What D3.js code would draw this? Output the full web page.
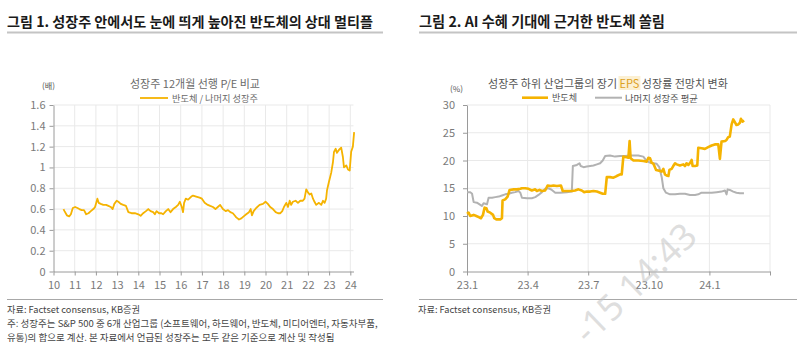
<!DOCTYPE html>
<html><head><meta charset="utf-8">
<script src="https://cdn.jsdelivr.net/npm/d3@7"></script>
<style>body{margin:0;background:#fff}svg{display:block}</style>
</head><body>
<svg id="c" width="800" height="353"></svg>
<script>
// ---------- data ----------
const peYears = [2010.47,2010.52,2010.63,2010.74,2010.82,2010.91,2011.02,2011.13,2011.22,2011.33,2011.44,2011.54,2011.65,2011.76,2011.88,2011.96,
2012.07,2012.13,2012.23,2012.35,2012.48,2012.59,2012.70,2012.79,2012.87,2012.98,2013.06,2013.17,2013.29,2013.42,2013.53,2013.68,2013.84,
2014.00,2014.11,2014.23,2014.36,2014.47,2014.58,2014.70,2014.78,2014.86,2014.98,2015.09,2015.17,2015.30,2015.41,2015.52,2015.64,2015.77,
2015.88,2015.96,2016.05,2016.11,2016.16,2016.24,2016.35,2016.50,2016.58,2016.73,2016.89,2017.00,2017.13,2017.28,2017.39,2017.52,2017.64,
2017.75,2017.86,2017.99,2018.12,2018.23,2018.34,2018.46,2018.54,2018.62,2018.75,2018.86,2018.97,2019.09,2019.22,2019.30,2019.36,2019.44,
2019.56,2019.72,2019.88,2020.00,2020.11,2020.22,2020.35,2020.48,2020.59,2020.70,2020.79,2020.87,2020.98,2021.06,2021.14,2021.21,2021.29,
2021.42,2021.53,2021.64,2021.76,2021.84,2021.92,2022.00,2022.08,2022.16,2022.24,2022.31,2022.39,2022.52,2022.63,2022.71,2022.79,2022.86,
2022.90,2022.99,2023.10,2023.18,2023.23,2023.31,2023.37,2023.47,2023.57,2023.65,2023.70,2023.81,2023.89,2023.97,2024.04,2024.12,2024.18];
const peRatio = [0.60,0.58,0.54,0.53,0.55,0.61,0.62,0.61,0.60,0.59,0.59,0.55,0.56,0.58,0.60,0.62,
0.70,0.66,0.65,0.64,0.64,0.63,0.62,0.60,0.65,0.68,0.67,0.65,0.64,0.63,0.57,0.56,0.56,
0.55,0.535,0.56,0.58,0.60,0.58,0.57,0.55,0.58,0.56,0.56,0.55,0.58,0.60,0.57,0.60,0.62,
0.64,0.67,0.62,0.57,0.66,0.70,0.69,0.72,0.73,0.72,0.71,0.70,0.66,0.64,0.63,0.62,0.60,
0.62,0.64,0.60,0.58,0.59,0.57,0.56,0.54,0.52,0.50,0.51,0.53,0.55,0.57,0.60,0.54,0.58,
0.61,0.64,0.65,0.67,0.65,0.62,0.60,0.57,0.56,0.56,0.58,0.62,0.66,0.62,0.68,0.64,0.67,
0.68,0.66,0.68,0.68,0.70,0.79,0.76,0.74,0.75,0.70,0.67,0.64,0.66,0.64,0.68,0.66,0.70,
0.78,0.86,0.95,1.05,1.15,1.18,1.14,1.17,1.19,1.10,1.00,1.02,0.98,0.97,1.15,1.20,1.34];

// months since 2023-01
const semiMonths = [0.00,0.08,0.16,0.33,0.46,0.58,0.69,0.79,0.87,0.96,1.02,1.15,1.29,1.35,1.45,1.65,1.73,1.76,1.89,2.01,2.11,2.31,2.47,2.64,2.72,2.88,
3.05,3.21,3.38,3.46,3.59,3.71,3.87,3.99,4.15,4.28,4.45,4.65,4.74,4.94,5.19,5.35,5.52,5.68,5.80,5.93,6.10,6.26,6.43,6.59,6.72,6.84,6.92,
7.08,7.25,7.41,7.58,7.66,7.74,7.91,7.99,8.05,8.10,8.24,8.48,8.73,8.90,8.98,9.06,9.14,9.23,9.36,9.47,9.56,9.64,9.72,9.80,9.88,9.97,10.02,
10.13,10.21,10.30,10.38,10.54,10.71,10.79,10.87,10.96,11.07,11.12,11.17,11.29,11.40,11.45,11.61,11.78,11.94,12.11,12.27,12.44,12.52,12.60,
12.77,12.85,12.93,13.01,13.10,13.18,13.26,13.34,13.43,13.51,13.56,13.64,13.72];
const semiEps = [10.4,10.6,10.0,10.2,10.0,9.8,9.6,10.2,11.5,11.4,10.8,10.6,10.2,9.6,9.4,9.4,9.6,12.8,13.0,13.5,14.7,14.8,14.8,14.9,15.0,15.0,
14.9,14.6,14.8,14.5,14.7,14.5,14.6,15.5,15.4,15.5,15.4,15.5,14.5,14.5,14.5,14.6,14.8,14.6,14.3,14.4,14.4,14.5,14.4,14.2,14.0,14.0,17.0,
17.0,16.9,17.2,17.5,17.5,20.7,20.6,20.5,23.5,20.4,20.0,20.0,19.9,19.8,20.5,20.4,19.6,19.4,18.3,18.2,18.1,18.0,18.5,17.5,17.3,17.2,18.3,
18.5,19.0,19.5,19.3,19.1,19.3,19.0,19.5,19.2,19.7,20.1,19.0,19.0,19.1,22.3,22.2,22.1,22.4,22.7,22.9,22.9,20.3,23.4,
23.5,23.7,24.2,24.3,26.5,27.4,26.9,26.4,26.5,26.8,27.5,27.0,27.2];

const otherMonths = [0.00,0.16,0.25,0.33,0.49,0.66,0.74,0.82,0.91,0.99,1.07,1.24,1.40,1.57,1.73,1.89,2.06,2.22,2.39,2.55,2.64,2.72,2.97,3.21,
3.38,3.54,3.71,3.87,4.04,4.20,4.37,4.61,4.94,5.19,5.24,5.44,5.57,5.63,5.77,5.93,6.10,6.26,6.43,6.59,6.72,6.84,7.08,7.33,7.58,7.83,8.07,
8.24,8.48,8.73,8.90,9.06,9.23,9.39,9.52,9.64,9.72,9.85,10.05,10.30,10.54,10.79,11.04,11.29,11.45,11.61,11.86,12.11,12.36,12.60,12.77,
12.85,12.90,13.01,13.18,13.34,13.51,13.71];
const otherEps = [14.3,14.3,14.0,12.5,12.4,12.0,11.8,12.3,12.2,12.1,13.3,13.3,13.4,13.5,13.7,13.9,14.0,14.2,14.3,14.5,14.2,13.3,13.2,13.2,
13.4,13.8,14.3,14.9,15.0,14.7,14.2,14.2,14.3,14.4,19.0,19.2,19.5,19.0,18.8,18.9,19.0,19.1,19.3,19.5,20.0,20.8,20.9,20.7,20.8,20.8,20.9,
20.9,20.9,20.7,19.9,19.6,19.5,19.4,18.8,17.0,15.0,14.2,13.9,13.9,14.0,14.0,13.8,13.8,13.9,14.2,14.2,14.2,14.3,14.4,14.6,
13.9,14.8,14.7,14.4,14.2,14.1,14.1];

const leftYTicks = [0,0.2,0.4,0.6,0.8,1,1.2,1.4,1.6];
const leftXTicks = [2010,2011,2012,2013,2014,2015,2016,2017,2018,2019,2020,2021,2022,2023,2024];
const leftXLabels = ["10","11","12","13","14","15","16","17","18","19","20","21","22","23","24"];
const rightYTicks = [0,5,10,15,20,25,30];
const rightXTicks = [0,3,6,9,12,15];
const rightXLabels = ["23.1","23.4","23.7","23.10","24.1",""];

// ---------- drawing ----------
const FONT = "'Noto Sans CJK KR','Noto Sans',sans-serif";
const svg = d3.select("#c").attr("font-family", FONT);
const GOLD = "#F5B301", GRAY = "#B2B2B2", GRID = "#e9e9e9", AX = "#9a9a9a", TICKC = "#7a7a7a";

function fit(t, w) {
  const L = t.node().getComputedTextLength();
  const fs = parseFloat(t.attr("font-size"));
  t.attr("font-size", (fs * w / L).toFixed(2));
  return t;
}
function txt(x, y, s, fs, opts = {}) {
  const t = svg.append("text").attr("x", x).attr("y", y).attr("font-size", fs)
    .attr("dominant-baseline", "central").attr("fill", opts.fill || "#333")
    .attr("font-weight", opts.bold ? 700 : 400)
    .attr("text-anchor", opts.anchor || "start").text(s);
  if (opts.w) fit(t, opts.w);
  return t;
}

// headers
txt(7, 20.5, "그림 1. 성장주 안에서도 눈에 띄게 높아진 반도체의 상대 멀티플", 13, {bold: true, fill: "#1a1a1a", w: 366});
txt(419, 20.5, "그림 2. AI 수혜 기대에 근거한 반도체 쏠림", 13, {bold: true, fill: "#1a1a1a", w: 246});
svg.append("line").attr("x1", 7).attr("x2", 383).attr("y1", 32.5).attr("y2", 32.5).attr("stroke", "#c4c4c4").attr("stroke-width", 2);
svg.append("line").attr("x1", 419).attr("x2", 797).attr("y1", 32.5).attr("y2", 32.5).attr("stroke", "#c4c4c4").attr("stroke-width", 2);

// ---------- left chart ----------
const yL = d3.scaleLinear().domain([0, 1.6]).range([271.5, 105]);
const xL = d3.scaleLinear().domain([2010, 2024.15]).range([53.5, 353.5]);
const gL = svg.append("g");
gL.selectAll(".hg").data(leftYTicks.slice(1)).join("line")
  .attr("x1", xL(2010)).attr("x2", xL(2024.15)).attr("y1", d => yL(d)).attr("y2", d => yL(d))
  .attr("stroke", GRID).attr("stroke-width", 1);
gL.selectAll(".vg").data(leftXTicks.slice(1)).join("line")
  .attr("x1", d => xL(d)).attr("x2", d => xL(d)).attr("y1", yL(1.6)).attr("y2", yL(0))
  .attr("stroke", GRID).attr("stroke-width", 1);

const axL = gL.append("g").attr("transform", `translate(0,${yL(0)})`)
  .call(d3.axisBottom(xL).tickValues(leftXTicks).tickFormat((d, i) => leftXLabels[i]).tickSize(4).tickPadding(6).tickSizeOuter(0));
const ayL = gL.append("g").attr("transform", `translate(${xL(2010)},0)`)
  .call(d3.axisLeft(yL).tickValues(leftYTicks).tickFormat(d => String(d)).tickSize(4).tickPadding(4).tickSizeOuter(0));
[axL, ayL].forEach(a => {
  a.select(".domain").attr("stroke", AX);
  a.selectAll(".tick line").attr("stroke", AX);
  a.selectAll("text").attr("fill", TICKC).attr("font-size", 11).attr("font-family", FONT);
});

gL.append("path").datum(peYears.map((d, i) => [d, peRatio[i]]))
  .attr("fill", "none").attr("stroke", GOLD).attr("stroke-width", 1.8).attr("stroke-linejoin", "round")
  .attr("d", d3.line().x(d => xL(d[0])).y(d => yL(d[1])));

txt(130, 83, "성장주 12개월 선행 P/E 비교", 10.5, {fill: "#6a6a6a", w: 130});
svg.append("line").attr("x1", 140).attr("x2", 168).attr("y1", 98).attr("y2", 98).attr("stroke", GOLD).attr("stroke-width", 1.8);
txt(172, 98, "반도체 / 나머지 성장주", 10, {fill: "#6a6a6a", w: 86});
txt(42, 85, "(배)", 9, {fill: "#555", w: 13});

// ---------- right chart ----------
const yR = d3.scaleLinear().domain([0, 30]).range([271.5, 105]);
const xR = d3.scaleLinear().domain([0, 15]).range([467, 770]);
const gR = svg.append("g");
gR.selectAll(".hg").data(rightYTicks.slice(1)).join("line")
  .attr("x1", xR(0)).attr("x2", xR(15)).attr("y1", d => yR(d)).attr("y2", d => yR(d))
  .attr("stroke", GRID).attr("stroke-width", 1);
gR.selectAll(".vg").data(rightXTicks.slice(1)).join("line")
  .attr("x1", d => xR(d)).attr("x2", d => xR(d)).attr("y1", yR(30)).attr("y2", yR(0))
  .attr("stroke", GRID).attr("stroke-width", 1);
const axR = gR.append("g").attr("transform", `translate(0,${yR(0)})`)
  .call(d3.axisBottom(xR).tickValues(rightXTicks).tickFormat((d, i) => rightXLabels[i]).tickSize(4).tickPadding(6).tickSizeOuter(0));
const ayR = gR.append("g").attr("transform", `translate(${xR(0)},0)`)
  .call(d3.axisLeft(yR).tickValues(rightYTicks).tickFormat(d => String(d)).tickSize(4).tickPadding(8).tickSizeOuter(0));
[axR, ayR].forEach(a => {
  a.select(".domain").attr("stroke", AX);
  a.selectAll(".tick line").attr("stroke", AX);
  a.selectAll("text").attr("fill", TICKC).attr("font-size", 11).attr("font-family", FONT);
});
const lineR = d3.line().x(d => xR(d[0])).y(d => yR(d[1]));
gR.append("path").datum(otherMonths.map((d, i) => [d, otherEps[i]]))
  .attr("fill", "none").attr("stroke", GRAY).attr("stroke-width", 2).attr("stroke-linejoin", "round").attr("d", lineR);
gR.append("path").datum(semiMonths.map((d, i) => [d, semiEps[i]]))
  .attr("fill", "none").attr("stroke", GOLD).attr("stroke-width", 2.6).attr("stroke-linejoin", "round").attr("d", lineR);

// right subtitle with highlighted EPS
const hl = svg.append("rect").attr("fill", "#fcf0d2");
const st = svg.append("text").attr("x", 488).attr("y", 83).attr("font-size", 10.5)
  .attr("dominant-baseline", "central").attr("fill", "#555");
st.append("tspan").text("성장주 하위 산업그룹의 장기 ");
const eps = st.append("tspan").attr("fill", "#DDA11E").text("EPS");
st.append("tspan").text(" 성장률 전망치 변화");
fit(st, 240);
{
  const n = st.node();
  const s = n.getStartPositionOfChar(16), e = n.getEndPositionOfChar(18);
  hl.attr("x", s.x - 1).attr("y", 76).attr("width", e.x - s.x + 2).attr("height", 14);
}
svg.append("line").attr("x1", 522).attr("x2", 548).attr("y1", 97.7).attr("y2", 97.7).attr("stroke", GOLD).attr("stroke-width", 2.6);
txt(552, 97.7, "반도체", 10, {fill: "#555", w: 25});
svg.append("line").attr("x1", 595).attr("x2", 622).attr("y1", 97.7).attr("y2", 97.7).attr("stroke", GRAY).attr("stroke-width", 2);
txt(625, 97.7, "나머지 성장주 평균", 10, {fill: "#555", w: 73});
txt(450, 88, "(%)", 9, {fill: "#555", w: 13});

// ---------- footers ----------
svg.append("line").attr("x1", 7).attr("x2", 383).attr("y1", 299.5).attr("y2", 299.5).attr("stroke", "#a8a8a8").attr("stroke-width", 1);
svg.append("line").attr("x1", 419).attr("x2", 797).attr("y1", 299.5).attr("y2", 299.5).attr("stroke", "#a8a8a8").attr("stroke-width", 1);
txt(7, 308.5, "자료: Factset consensus, KB증권", 9.5, {fill: "#444", w: 133});
txt(418, 308.5, "자료: Factset consensus, KB증권", 9.5, {fill: "#444", w: 133});
txt(7, 323, "주: 성장주는 S&P 500 중 6개 산업그룹 (소프트웨어, 하드웨어, 반도체, 미디어엔터, 자동차부품,", 9.5, {fill: "#444", w: 371});
txt(7, 337, "유통)의 합으로 계산. 본 자료에서 언급된 성장주는 모두 같은 기준으로 계산 및 작성됨", 9.5, {fill: "#444", w: 328});

// watermark (visible part)
svg.append("text").attr("x", 0).attr("y", 0).attr("font-size", 36).attr("font-family", "'Noto Sans',sans-serif")
  .attr("text-anchor", "end").attr("dominant-baseline", "central")
  .attr("fill", "#bdbdbd").attr("fill-opacity", 0.5)
  .attr("transform", "translate(690,229) rotate(-44)").text("-15 14:43");
</script>
</body></html>
